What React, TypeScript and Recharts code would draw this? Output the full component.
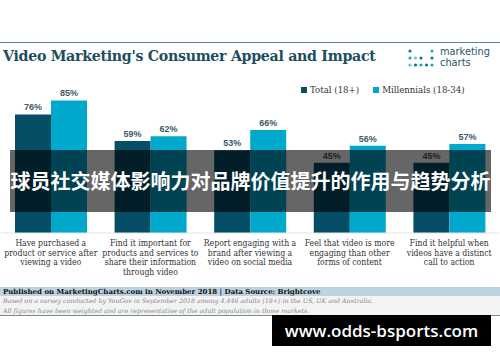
import React from "react";
import {BarChart, Bar, XAxis, YAxis, Legend, LabelList} from "recharts";

const categories = [
    "Have purchased a\nproduct or service after\nviewing a video",
    "Find it important for\nproducts and services to\nshare their information\nthrough video",
    "Report engaging with a\nbrand after viewing a\nvideo on social media",
    "Feel that video is more\nengaging than other\nforms of content",
    "Find it helpful when\nvideos have a distinct\ncall to action",
]
const totalValues = [76, 59, 53, 45, 45]
const millennialValues = [85, 62, 66, 56, 57]
const seriesNames = ["Total (18+)", "Millennials (18-34)"]

const data = categories.map((c, i) => ({
    category: c,
    total: totalValues[i],
    millennials: millennialValues[i],
}))

const SERIF = "'DejaVu Serif', 'Liberation Serif', serif"

const CategoryTick = (props: any) => {
    const {x, y, payload} = props
    const lines: string[] = String(payload.value).split("\n")
    return <text x={x} y={y} textAnchor="middle" fill="#333" fontSize={8.6} fontFamily={SERIF}
                 style={{fontStretch: "condensed"}}>
        {lines.map((l, i) => <tspan key={i} x={x} dy={i === 0 ? 5 : 9.6}>{l}</tspan>)}
    </text>
}

const LegendContent = (props: any) => {
    const items = [...(props.payload || [])].sort((a: any, b: any) =>
        seriesNames.indexOf(a.value) - seriesNames.indexOf(b.value))
    return <div style={{display: "flex", gap: 14, fontSize: 8.6, fontFamily: SERIF, color: "#333",
        alignItems: "center", whiteSpace: "nowrap"}}>
        {items.map((it: any) => <span key={it.value} style={{display: "flex", alignItems: "center"}}>
            <span style={{display: "inline-block", width: 6, height: 6, background: it.color, marginRight: 3}}/>
            {it.value}
        </span>)}
    </div>
}

const Logo = () => {
    const colors = ["#1a6f8a", "#21a3c4", "#5cc3d9", "#1a6f8a", "#21a3c4"]
    const rows = [[0, 4], [0, 1, 2, 4], [0, 1, 2, 3, 4]]
    return <svg width={28} height={22} style={{position: "absolute", left: 408, top: 48}}>
        {rows.map((r, ri) => r.map(ci => <circle key={ri + "-" + ci} cx={2 + ci * 5.5} cy={3 + ri * 7}
                                                  r={1.6} fill={colors[(ci + ri) % 5]}/>))}
    </svg>
}

export default function App() {
    return <div style={{
        position: "absolute", left: 0, top: 0, width: 500, height: 362,
        background: "#fff", overflow: "hidden", fontFamily: SERIF
    }}>
        <div style={{position: "absolute", left: 0, top: 42, width: 500, height: 1, background: "#5d8196"}}/>
        <div style={{
            position: "absolute", left: 3, top: 48, fontSize: 14.2, fontWeight: "bold",
            color: "#1d4e60", whiteSpace: "nowrap", letterSpacing: -0.3
        }}>
            Video Marketing's Consumer Appeal and Impact
        </div>
        <Logo/>
        <div style={{position: "absolute", left: 440, top: 46, fontSize: 9.8, lineHeight: "11px",
            color: "#1d5568", fontFamily: "'DejaVu Sans', sans-serif"}}>marketing</div>
        <div style={{position: "absolute", left: 440, top: 57, fontSize: 9.8, lineHeight: "11px",
            color: "#1d5568", fontFamily: "'DejaVu Sans', sans-serif"}}>charts</div>

        <div style={{position: "absolute", left: 0, top: 0}}>
            <BarChart width={500} height={300} data={data} barGap={0} barSize={36}
                      margin={{top: 67, right: 1, left: 1, bottom: 0}}>
                <XAxis dataKey="category" height={67} interval={0} tickLine={false}
                       axisLine={{stroke: "#e3e3e3"}} tick={<CategoryTick/>}/>
                <YAxis hide domain={[0, 100]}/>
                <Legend verticalAlign="top" content={<LegendContent/>}
                        wrapperStyle={{position: "absolute", top: 85, left: 301, width: 180}}/>
                <Bar name={seriesNames[0]} dataKey="total" fill="#064d66" isAnimationActive={false}>
                    <LabelList dataKey="total" position="top" offset={4} formatter={(v: any) => v + "%"}
                               fill="#3b5a6a" fontSize={9} fontWeight="bold"
                               fontFamily="'Liberation Sans', Arial, sans-serif"/>
                </Bar>
                <Bar name={seriesNames[1]} dataKey="millennials" fill="#00a9cc" isAnimationActive={false}>
                    <LabelList dataKey="millennials" position="top" offset={4} formatter={(v: any) => v + "%"}
                               fill="#3b5a6a" fontSize={9} fontWeight="bold"
                               fontFamily="'Liberation Sans', Arial, sans-serif"/>
                </Bar>
            </BarChart>
        </div>

        <div style={{
            position: "absolute", left: 0, top: 287, width: 500, height: 9, background: "#bcd4df",
            fontSize: 7, fontWeight: "bold", color: "#111", lineHeight: "9px", paddingLeft: 3, whiteSpace: "nowrap"
        }}>
            Published on MarketingCharts.com in November 2018 | Data Source: Brightcove
        </div>
        <div style={{
            position: "absolute", left: 0, top: 296, width: 500, height: 19, background: "#f3f3f3",
            fontSize: 6.3, fontStyle: "italic", color: "#888", lineHeight: "9.5px", paddingLeft: 3, whiteSpace: "nowrap"
        }}>
            Based on a survey conducted by YouGov in September 2018 among 4,446 adults (18+) in the US, UK and Australia.<br/>
            All figures have been weighted and are representative of the adult population in those markets.
        </div>
        <div style={{position: "absolute", left: 0, top: 315, width: 500, height: 1, background: "#6d8fa0"}}/>

        <div style={{
            position: "absolute", left: 10, top: 150, width: 481, height: 62, background: "rgba(0,0,0,0.6)",
            color: "#fff", fontSize: 20, fontWeight: "bold", lineHeight: "62px", textAlign: "center",
            fontFamily: "'Noto Sans CJK SC', sans-serif", whiteSpace: "nowrap"
        }}>
            球员社交媒体影响力对品牌价值提升的作用与趋势分析
        </div>
        <div style={{
            position: "absolute", left: 272, top: 315, width: 219, height: 31, background: "#000",
            color: "#fff", fontSize: 17, fontWeight: 600, lineHeight: "31px", textAlign: "center",
            fontFamily: "'Open Sans', sans-serif", whiteSpace: "nowrap"
        }}>
            www.odds-bsports.com
        </div>
    </div>
}
